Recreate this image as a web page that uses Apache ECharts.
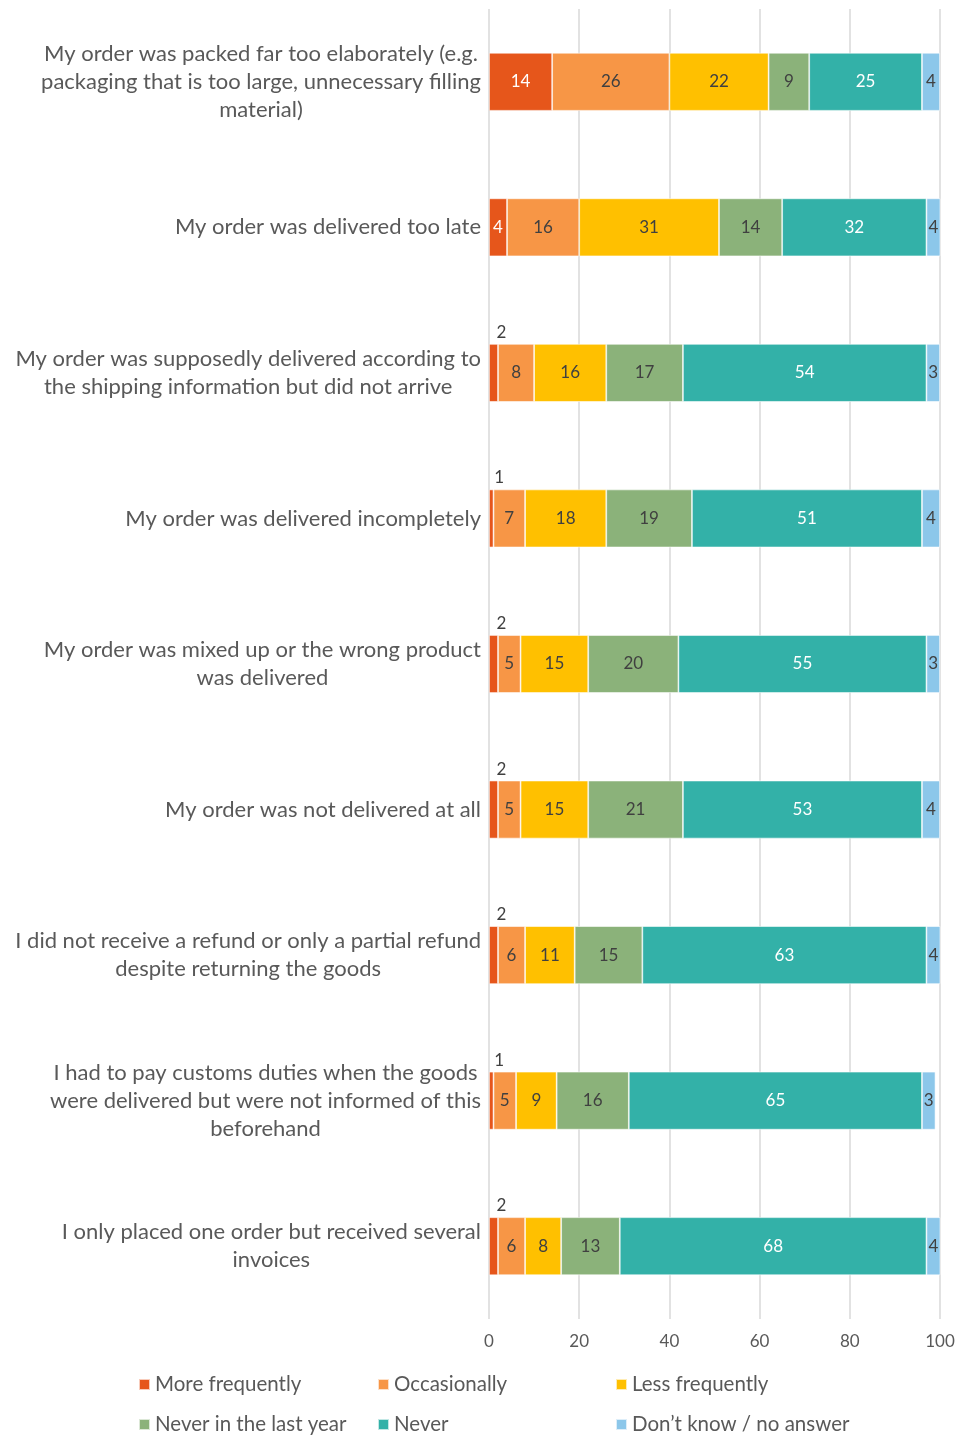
<!DOCTYPE html>
<html>
<head>
<meta charset="utf-8">
<script src="https://cdn.jsdelivr.net/npm/echarts@6/dist/echarts.min.js"></script>
<style>
  html, body { margin: 0; padding: 0; background: #fff; }
  #chart { width: 969px; height: 1437px; }
</style>
</head>
<body>
<div id="chart"></div>
<script>
// Survey items (top to bottom), lines broken as displayed
const categories = [
  'My order was packed far too elaborately (e.g.\npackaging that is too large, unnecessary filling\nmaterial)',
  'My order was delivered too late',
  'My order was supposedly delivered according to\nthe shipping information but did not arrive',
  'My order was delivered incompletely',
  'My order was mixed up or the wrong product\nwas delivered',
  'My order was not delivered at all',
  'I did not receive a refund or only a partial refund\ndespite returning the goods',
  'I had to pay customs duties when the goods\nwere delivered but were not informed of this\nbeforehand',
  'I only placed one order but received several\ninvoices'
];

const seriesNames = [
  'More frequently', 'Occasionally', 'Less frequently',
  'Never in the last year', 'Never', 'Don\u2019t know / no answer'
];

// Shares in percent, one array per answer, in category order
const moreFrequently   = [14, 4, 2, 1, 2, 2, 2, 1, 2];
const occasionally     = [26, 16, 8, 7, 5, 5, 6, 5, 6];
const lessFrequently   = [22, 31, 16, 18, 15, 15, 11, 9, 8];
const neverLastYear    = [9, 14, 17, 19, 20, 21, 15, 16, 13];
const never            = [25, 32, 54, 51, 55, 53, 63, 65, 68];
const dontKnow         = [4, 4, 3, 4, 3, 4, 4, 3, 4];

const xTicks = [0, 20, 40, 60, 80, 100];

const seriesValues = [moreFrequently, occasionally, lessFrequently, neverLastYear, never, dontKnow];
const colors = ['#E6561B', '#F79646', '#FFC000', '#8BB27A', '#33B1A8', '#8CC7EA'];
const labelColors = ['#ffffff', '#404040', '#404040', '#404040', '#ffffff', '#404040'];

const FONT = 'Lato, "Open Sans", sans-serif';

const chart = echarts.init(document.getElementById('chart'), null, { renderer: 'canvas' });

const series = seriesValues.map((vals, si) => ({
  name: seriesNames[si],
  type: 'bar',
  stack: 'total',
  barWidth: 58,
  itemStyle: { color: colors[si], borderColor: 'rgba(255,255,255,0.7)', borderWidth: 0.8 },
  label: {
    show: true,
    position: 'inside',
    color: labelColors[si],
    fontFamily: FONT,
    fontSize: 17,
    formatter: '{c}'
  },
  data: vals.map(v => {
    // very thin segments carry their label above the bar
    if (si === 0 && v < 3) {
      return {
        value: v,
        label: { position: 'top', distance: 3, offset: [8, 0], color: '#404040' }
      };
    }
    return v;
  })
}));

// Legend laid out as a 3 x 2 grid, one legend component per entry
const legendCols = [138, 377, 615];
const legendRows = [1374, 1414];
const legends = seriesNames.map((name, i) => ({
  data: [name],
  left: legendCols[i % 3],
  top: legendRows[Math.floor(i / 3)],
  icon: 'rect', itemWidth: 11, itemHeight: 11, padding: 0,
  textStyle: { color: '#595959', fontFamily: FONT, fontSize: 20.5 }
}));

const option = {
  backgroundColor: '#ffffff',
  animation: false,
  grid: { left: 489, right: 29, top: 9, bottom: 118 },
  xAxis: {
    type: 'value',
    min: xTicks[0],
    max: xTicks[xTicks.length - 1],
    interval: xTicks[1] - xTicks[0],
    axisLine: { show: false },
    axisTick: { show: false },
    splitLine: { show: true, lineStyle: { color: '#D9D9D9', width: 1.5 } },
    axisLabel: { color: '#595959', fontFamily: FONT, fontSize: 17, margin: 14 }
  },
  yAxis: {
    type: 'category',
    inverse: true,
    data: categories,
    axisLine: { show: false },
    axisTick: { show: false },
    splitLine: { show: false },
    axisLabel: {
      margin: 8,
      align: 'right',
      color: '#595959',
      fontFamily: FONT,
      fontSize: 22,
      lineHeight: 28,
      formatter: function (value) {
        return value.split('\n').map(l => '{c|' + l + '}').join('\n');
      },
      rich: {
        c: { align: 'center', color: '#595959', fontFamily: FONT, fontSize: 22, lineHeight: 28 }
      }
    }
  },
  legend: legends,
  color: colors,
  series: series
};

chart.setOption(option);
</script>
</body>
</html>
